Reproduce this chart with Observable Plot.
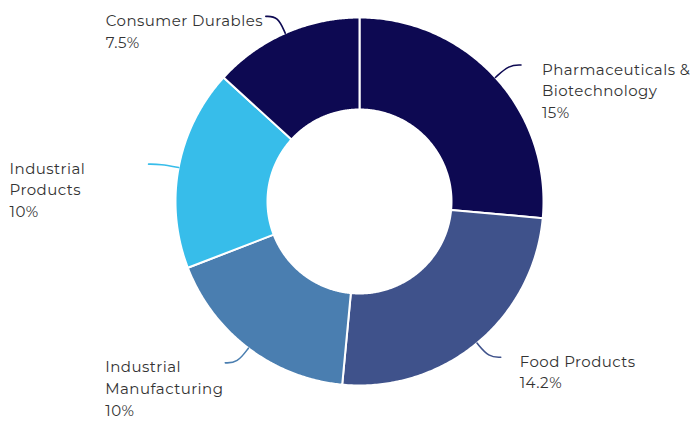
<!DOCTYPE html>
<html>
<head>
<meta charset="utf-8">
<script src="https://cdn.jsdelivr.net/npm/d3@7"></script>
<script src="https://cdn.jsdelivr.net/npm/@observablehq/plot@0.6"></script>
<style>
  html, body { margin: 0; padding: 0; background: #fff; }
  #chart svg { display: block; }
  #chart text { letter-spacing: 0.45px; }
</style>
</head>
<body>
<div id="chart"></div>
<script>
// ---- data ----
const categories = ["Pharmaceuticals & Biotechnology", "Food Products", "Industrial Manufacturing", "Industrial Products", "Consumer Durables"];
const values = [15, 14.2, 10, 10, 7.5];
const labelNames = ["Pharmaceuticals &\nBiotechnology", "Food Products", "Industrial\nManufacturing", "Industrial\nProducts", "Consumer Durables"];
const colors = ["#0d0952", "#3f528b", "#4a7eb0", "#37bdea", "#0d0952"];

// ---- layout ----
const W = 694, H = 422, R = 184, CX = 359, CY = 201, INNER = 0.5;
const labelDx = [21, 19, -120, -139, -160];
const FONT = "Montserrat, 'Open Sans', sans-serif";

const arcs = d3.pie().sort(null).value(d => d)(values);

const slicePts = [];
arcs.forEach((a, i) => {
  const n = 150;
  const pts = [];
  for (let k = 0; k <= n; k++) {
    const t = a.startAngle + (a.endAngle - a.startAngle) * k / n;
    pts.push([Math.sin(t), -Math.cos(t)]);
  }
  for (let k = n; k >= 0; k--) {
    const t = a.startAngle + (a.endAngle - a.startAngle) * k / n;
    pts.push([INNER * Math.sin(t), -INNER * Math.cos(t)]);
  }
  pts.push(pts[0]);
  pts.forEach(([x, y]) => slicePts.push({cat: categories[i], x, y}));
});

const leaderPts = [];
const labelData = [];
arcs.forEach((a, i) => {
  const m = (a.startAngle + a.endAngle) / 2;
  const s = Math.sin(m), c = -Math.cos(m);
  const side = s >= 0 ? 1 : -1;
  const p0 = [s, c], p1 = [1.1 * s, 1.1 * c], p2 = [1.1 * s + side * 12 / R, 1.1 * c];
  [p0, p1, p2].forEach(([x, y]) => leaderPts.push({cat: categories[i], x, y}));
  labelData.push({cat: categories[i], x: p2[0], y: p2[1], dx: labelDx[i],
    text: labelNames[i] + "\n" + values[i] + "%"});
});

const chart = Plot.plot({
  width: W, height: H,
  margin: 0,
  style: {background: "#fff", fontFamily: FONT},
  x: {domain: [-CX / R, (W - CX) / R], range: [0, W], axis: null},
  y: {domain: [-CY / R, (H - CY) / R], range: [0, H], axis: null},
  color: {domain: categories, range: colors},
  marks: [
    Plot.line(slicePts, {x: "x", y: "y", z: "cat", fill: "cat", stroke: "#fff", strokeWidth: 2, curve: "linear"}),
    Plot.line(leaderPts, {x: "x", y: "y", z: "cat", stroke: "cat", strokeWidth: 1.6, curve: "basis"}),
    ...labelData.map(d => Plot.text([d], {x: "x", y: "y", text: "text", dx: d.dx, dy: -6,
      textAnchor: "start", lineAnchor: "top", lineHeight: 1.45, fontSize: 15, fill: "#333", fontFamily: FONT}))
  ]
});
document.getElementById("chart").appendChild(chart);
</script>
</body>
</html>
